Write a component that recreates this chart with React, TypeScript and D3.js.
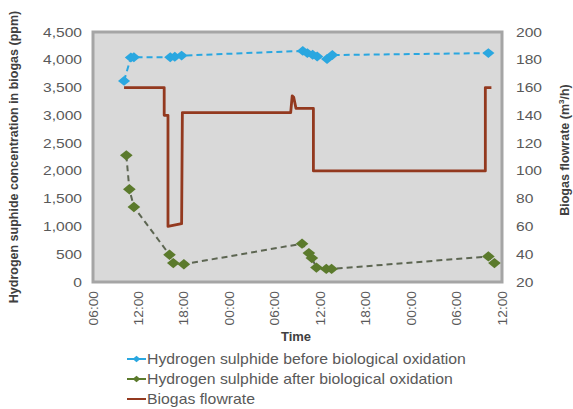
import { useEffect, useRef } from "react";
import * as d3 from "d3";

// hours counted from 00:00 of the first day
const beforeTimes = [10.1, 11.0, 11.4, 16.2, 16.8, 17.7, 33.7, 34.3, 35.0, 35.6, 36.9, 37.6, 58.2];
const beforeValues = [3620, 4040, 4045, 4045, 4055, 4075, 4160, 4120, 4090, 4060, 4015, 4085, 4120];

const afterTimes = [10.4, 10.8, 11.4, 16.1, 16.6, 18.0, 33.6, 34.5, 34.9, 35.5, 36.8, 37.5, 58.2, 59.0];
const afterValues = [2280, 1670, 1350, 490, 340, 320, 690, 520, 430, 260, 235, 235, 460, 340];

const flowTimes = [10.1, 15.4, 15.4, 15.9, 15.9, 17.7, 17.8, 32.1, 32.3, 32.5, 32.8, 35.1, 35.1, 57.8, 57.8, 58.6];
const flowValues = [160, 160, 140, 140, 60, 62, 142, 142, 154, 153, 145, 145, 100, 100, 160, 160];

const xTickLabels = ["06:00", "12:00", "18:00", "00:00", "06:00", "12:00", "18:00", "00:00", "06:00", "12:00"];
const legendLabels = [
  "Hydrogen sulphide before biological oxidation",
  "Hydrogen sulphide after biological oxidation",
  "Biogas flowrate",
];

const blue = "#2aa7e0";
const green = "#5b7a2c";
const brown = "#93391f";
const textColor = "#595959";

function App() {
  const svgRef = useRef<SVGSVGElement>(null);
  const width = 573;
  const height = 409;

  useEffect(() => {
    const svg = d3.select(svgRef.current);
    svg.selectAll("*").remove();

    const left = 93;
    const right = 502;
    const top = 32;
    const bottom = 282;

    const x = d3.scaleLinear().domain([6, 60]).range([left, right]);
    const yLeft = d3.scaleLinear().domain([0, 4500]).range([bottom, top]);
    const yRight = d3.scaleLinear().domain([20, 200]).range([bottom, top]);

    // plot area
    svg
      .append("rect")
      .attr("x", left)
      .attr("y", top)
      .attr("width", right - left)
      .attr("height", bottom - top)
      .attr("fill", "#d9d9d9")
      .attr("stroke", "#a5a5a5")
      .attr("stroke-width", 3);

    const font = "'Liberation Sans', Arial, sans-serif";

    // left axis labels
    svg
      .append("g")
      .selectAll("text")
      .data(yLeft.ticks(9))
      .join("text")
      .attr("transform", (d) => `translate(82,${yLeft(d) + 4.5}) scale(1.25,1)`)
      .attr("text-anchor", "end")
      .attr("font-family", font)
      .attr("font-size", 12.5)
      .attr("fill", textColor)
      .text((d) => d3.format(",")(d));

    // right axis labels
    svg
      .append("g")
      .selectAll("text")
      .data(yRight.ticks(9))
      .join("text")
      .attr("transform", (d) => `translate(516,${yRight(d) + 4.5}) scale(1.25,1)`)
      .attr("font-family", font)
      .attr("font-size", 12.5)
      .attr("fill", textColor)
      .text((d) => d);

    // x labels, rotated
    const xTicks = d3.range(6, 61, 6);
    svg
      .append("g")
      .selectAll("text")
      .data(xTicks)
      .join("text")
      .attr("transform", (d) => `translate(${x(d) + 4.5},291) rotate(-90) scale(1.1,1)`)
      .attr("text-anchor", "end")
      .attr("font-family", font)
      .attr("font-size", 12.5)
      .attr("fill", textColor)
      .text((d, i) => xTickLabels[i]);

    // axis titles
    svg
      .append("text")
      .attr("transform", `translate(18,157) rotate(-90)`)
      .attr("text-anchor", "middle")
      .attr("font-family", font)
      .attr("font-weight", "bold")
      .attr("font-size", 12.5)
      .attr("fill", "#404040")
      .text("Hydrogen suphide concentration in biogas (ppm)");

    const rt = svg
      .append("text")
      .attr("transform", `translate(569,150) rotate(-90)`)
      .attr("text-anchor", "middle")
      .attr("font-family", font)
      .attr("font-weight", "bold")
      .attr("font-size", 12.5)
      .attr("fill", "#404040");
    rt.append("tspan").text("Biogas flowrate (m");
    rt.append("tspan").attr("font-size", 8).attr("dy", -5).text("3");
    rt.append("tspan").attr("dy", 5).text("/h)");

    svg
      .append("text")
      .attr("x", 296)
      .attr("y", 341)
      .attr("text-anchor", "middle")
      .attr("font-family", font)
      .attr("font-weight", "bold")
      .attr("font-size", 13)
      .attr("fill", "#404040")
      .text("Time");

    // flowrate line
    const flowLine = d3
      .line<number>()
      .x((d, i) => x(flowTimes[i]))
      .y((d) => yRight(d));
    svg
      .append("path")
      .attr("d", flowLine(flowValues))
      .attr("fill", "none")
      .attr("stroke", brown)
      .attr("stroke-width", 2.8)
      .attr("stroke-linejoin", "round");

    const diamond = "M0,-4.5L5.5,0L0,4.5L-5.5,0Z";

    const drawSeries = (times: number[], values: number[], color: string, lineColor: string, size: number) => {
      const ln = d3
        .line<number>()
        .x((d, i) => x(times[i]))
        .y((d) => yLeft(d));
      svg
        .append("path")
        .attr("d", ln(values))
        .attr("fill", "none")
        .attr("stroke", lineColor)
        .attr("stroke-width", 2)
        .attr("stroke-dasharray", "6,4");
      svg
        .append("g")
        .selectAll("path")
        .data(values)
        .join("path")
        .attr("d", diamond)
        .attr("transform", (d, i) => `translate(${x(times[i])},${yLeft(d)}) scale(${size})`)
        .attr("fill", color);
    };

    drawSeries(beforeTimes, beforeValues, blue, blue, 1.1);
    drawSeries(afterTimes, afterValues, green, "#5d6652", 1.15);

    // legend
    const legendColors = [blue, green, brown];
    const lg = svg.append("g");
    legendLabels.forEach((label, i) => {
      const yy = 359 + i * 20;
      lg.append("line")
        .attr("x1", 127)
        .attr("x2", 146)
        .attr("y1", yy)
        .attr("y2", yy)
        .attr("stroke", legendColors[i])
        .attr("stroke-width", 2);
      if (i < 2) {
        lg.append("path")
          .attr("d", diamond)
          .attr("transform", `translate(136.5,${yy}) scale(0.7)`)
          .attr("fill", legendColors[i]);
      }
      lg.append("text")
        .attr("transform", `translate(147,${yy + 5}) scale(1.13,1)`)
        .attr("font-family", font)
        .attr("font-size", 14)
        .attr("fill", textColor)
        .text(label);
    });
  }, []);

  return (
    <svg
      ref={svgRef}
      width={width}
      height={height}
      style={{ position: "absolute", left: 0, top: 0, background: "#fff" }}
    />
  );
}

export default App;
